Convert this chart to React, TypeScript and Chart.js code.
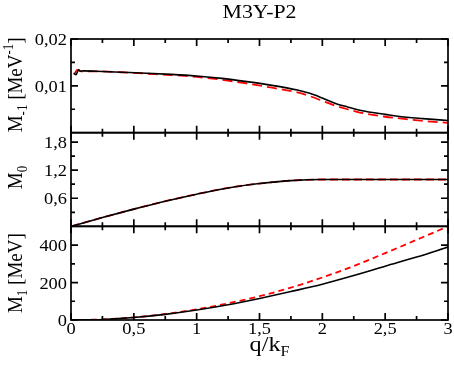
import React, { useEffect, useRef } from "react";
import { Chart, registerables } from "chart.js";

Chart.register(...registerables);

// ---------- data ----------
const titleText = "M3Y-P2";

// Panel 1: M_-1 [MeV^-1]
const qM1mBlack = [0.02, 0.04, 0.06, 0.08, 0.1, 0.2, 0.4, 0.6, 0.8, 1.0, 1.2, 1.4, 1.6, 1.8, 1.9, 2.0, 2.1, 2.2, 2.3, 2.4, 2.5, 2.6, 2.8, 3.0];
const m1mBlack = [0.0127, 0.0124, 0.0134, 0.0131, 0.0132, 0.0131, 0.0129, 0.0127, 0.01245, 0.0121, 0.0116, 0.0109, 0.0101, 0.0091, 0.0084, 0.0074, 0.0063, 0.0055, 0.0048, 0.0043, 0.0039, 0.0035, 0.0030, 0.0026];
const qM1mRed = [0.03, 0.05, 0.08, 0.1, 0.2, 0.4, 0.6, 0.8, 1.0, 1.2, 1.4, 1.6, 1.8, 1.9, 2.0, 2.1, 2.2, 2.3, 2.4, 2.5, 2.6, 2.8, 3.0];
const m1mRed = [0.0127, 0.0134, 0.0131, 0.0131, 0.0131, 0.0129, 0.0126, 0.0123, 0.0119, 0.0113, 0.0105, 0.0096, 0.0086, 0.0078, 0.0068, 0.0058, 0.0050, 0.0043, 0.0038, 0.0034, 0.0031, 0.0025, 0.0021];

// Panel 2: M_0
const qM0 = [0, 0.25, 0.5, 0.75, 1.0, 1.25, 1.5, 1.75, 2.0, 2.5, 3.0];
const m0Black = [0, 0.187, 0.367, 0.536, 0.687, 0.82, 0.914, 0.977, 1.0, 1.0, 1.0];
const m0Red = [0, 0.187, 0.367, 0.536, 0.687, 0.82, 0.914, 0.977, 1.0, 1.0, 1.0];

// Panel 3: M_1 [MeV]
const qM1 = [0, 0.25, 0.5, 0.75, 1.0, 1.25, 1.5, 1.75, 2.0, 2.25, 2.5, 2.75, 3.0];
const m1Black = [0, 3, 13, 30, 53, 81, 115, 152, 191, 237, 287, 336, 389];
const m1Red = [0, 3, 14, 32, 57, 89, 127, 173, 227, 288, 357, 428, 500];

// ticks
const xMajorTicks = [0, 0.5, 1, 1.5, 2, 2.5, 3];
const xMinorTicks = [0.25, 0.75, 1.25, 1.75, 2.25, 2.75];
const xTickLabels = ["0", "0,5", "1", "1,5", "2", "2,5", "3"];

const yATicks = [0.01, 0.02];
const yAMinor = [0.005, 0.015];
const yALabels = ["0,01", "0,02"];

const yBTicks = [0.6, 1.2, 1.8];
const yBMinor = [0.3, 0.9, 1.5];
const yBLabels = ["0,6", "1,2", "1,8"];

const yCTicks = [0, 200, 400];
const yCMinor = [100, 300];
const yCLabels = ["0", "200", "400"];

// ---------- drawing helpers ----------
const SX = 1.15;
const SERIF = '"Liberation Serif", "Times New Roman", serif';

type Part = { t: string; size: number; dy: number };

function drawText(ctx: CanvasRenderingContext2D, s: string, x: number, y: number, size: number, align: CanvasTextAlign, baseline: CanvasTextBaseline) {
  ctx.save();
  ctx.translate(x, y);
  ctx.scale(SX, 1);
  ctx.font = `${size}px ${SERIF}`;
  ctx.textAlign = align;
  ctx.textBaseline = baseline;
  ctx.fillStyle = "#000";
  ctx.fillText(s, 0, 0);
  ctx.restore();
}

function drawRich(ctx: CanvasRenderingContext2D, parts: Part[], x: number, y: number, rotated: boolean) {
  ctx.save();
  ctx.translate(x, y);
  if (rotated) {
    ctx.rotate(-Math.PI / 2);
    ctx.scale(1, SX);
  } else {
    ctx.scale(SX, 1);
  }
  ctx.fillStyle = "#000";
  ctx.textBaseline = "alphabetic";
  ctx.textAlign = "left";
  let total = 0;
  const widths = parts.map((p) => {
    ctx.font = `${p.size}px ${SERIF}`;
    const w = ctx.measureText(p.t).width;
    total += w;
    return w;
  });
  let cx = -total / 2;
  parts.forEach((p, i) => {
    ctx.font = `${p.size}px ${SERIF}`;
    ctx.fillText(p.t, cx, p.dy);
    cx += widths[i];
  });
  ctx.restore();
}

const framePlugin = {
  id: "frame",
  afterDraw(chart: any) {
    const ctx: CanvasRenderingContext2D = chart.ctx;
    const xs = chart.scales.x;
    const area = chart.chartArea;
    const L = area.left;
    const R = area.right;
    const panels = [
      { id: "yA", major: yATicks, minor: yAMinor, labels: yALabels },
      { id: "yB", major: yBTicks, minor: yBMinor, labels: yBLabels },
      { id: "yC", major: yCTicks, minor: yCMinor, labels: yCLabels },
    ];
    ctx.save();
    ctx.strokeStyle = "#000";
    ctx.lineWidth = 1.7;
    const MAJ = 7;
    const MIN = 4;
    for (const p of panels) {
      const s = chart.scales[p.id];
      const T = s.top;
      const B = s.bottom;
      ctx.strokeRect(L, T, R - L, B - T);
      ctx.beginPath();
      for (const q of xMajorTicks) {
        const px = xs.getPixelForValue(q);
        ctx.moveTo(px, B);
        ctx.lineTo(px, B - MAJ);
        ctx.moveTo(px, T);
        ctx.lineTo(px, T + MAJ);
      }
      for (const q of xMinorTicks) {
        const px = xs.getPixelForValue(q);
        ctx.moveTo(px, B);
        ctx.lineTo(px, B - MIN);
        ctx.moveTo(px, T);
        ctx.lineTo(px, T + MIN);
      }
      for (const v of p.major) {
        const py = s.getPixelForValue(v);
        ctx.moveTo(L, py);
        ctx.lineTo(L + MAJ, py);
        ctx.moveTo(R, py);
        ctx.lineTo(R - MAJ, py);
      }
      for (const v of p.minor) {
        const py = s.getPixelForValue(v);
        ctx.moveTo(L, py);
        ctx.lineTo(L + MIN, py);
        ctx.moveTo(R, py);
        ctx.lineTo(R - MIN, py);
      }
      ctx.stroke();
      p.major.forEach((v, i) => {
        const py = s.getPixelForValue(v);
        drawText(ctx, p.labels[i], L - 4, py + 2, 16, "right", "middle");
      });
    }
    // x tick labels
    const bottom = chart.scales.yC.bottom;
    xMajorTicks.forEach((q, i) => {
      drawText(ctx, xTickLabels[i], xs.getPixelForValue(q), bottom + 2, 16, "center", "top");
    });
    // title
    const cx = (L + R) / 2;
    drawText(ctx, titleText, cx, 18, 19, "center", "alphabetic");
    // x title
    drawRich(ctx, [
      { t: "q/k", size: 21, dy: 0 },
      { t: "F", size: 14, dy: 5 },
    ], cx + 10, 351, false);
    // y titles
    const yA = chart.scales.yA;
    const yB = chart.scales.yB;
    const yC = chart.scales.yC;
    drawRich(ctx, [
      { t: "M", size: 19, dy: 0 },
      { t: "-1", size: 13, dy: 4 },
      { t: " [MeV", size: 19, dy: 0 },
      { t: "-1", size: 13, dy: -8 },
      { t: "]", size: 19, dy: 0 },
    ], 22, (yA.top + yA.bottom) / 2 - 1, true);
    drawRich(ctx, [
      { t: "M", size: 19, dy: 0 },
      { t: "0", size: 13, dy: 4 },
    ], 22, (yB.top + yB.bottom) / 2 - 2, true);
    drawRich(ctx, [
      { t: "M", size: 19, dy: 0 },
      { t: "1", size: 13, dy: 4 },
      { t: " [MeV]", size: 19, dy: 0 },
    ], 22, (yC.top + yC.bottom) / 2, true);
    ctx.restore();
  },
};

function pts(xs: number[], ys: number[]) {
  return xs.map((x, i) => ({ x, y: ys[i] }));
}

const hiddenAxis = {
  ticks: { display: false },
  grid: { display: false, drawTicks: false, tickLength: 0 },
  border: { display: false },
  title: { display: false },
};

export default function App() {
  const ref = useRef<HTMLCanvasElement | null>(null);
  useEffect(() => {
    if (!ref.current) return;
    const black = "#000000";
    const red = "#ff0000";
    const chart = new Chart(ref.current, {
      type: "line",
      data: {
        datasets: [
          { label: "M-1 black", data: pts(qM1mBlack, m1mBlack), yAxisID: "yA", borderColor: black, borderWidth: 1.6, pointRadius: 0, cubicInterpolationMode: "monotone" },
          { label: "M-1 red", data: pts(qM1mRed, m1mRed), yAxisID: "yA", borderColor: red, borderWidth: 1.8, borderDash: [10, 5], pointRadius: 0, cubicInterpolationMode: "monotone" },
          { label: "M0 black", data: pts(qM0, m0Black), yAxisID: "yB", borderColor: black, borderWidth: 1.6, pointRadius: 0, cubicInterpolationMode: "monotone" },
          { label: "M0 red", data: pts(qM0, m0Red), yAxisID: "yB", borderColor: red, borderWidth: 1.8, borderDash: [8, 4], pointRadius: 0, cubicInterpolationMode: "monotone" },
          { label: "M1 black", data: pts(qM1, m1Black), yAxisID: "yC", borderColor: black, borderWidth: 1.6, pointRadius: 0, cubicInterpolationMode: "monotone" },
          { label: "M1 red", data: pts(qM1, m1Red), yAxisID: "yC", borderColor: red, borderWidth: 1.8, borderDash: [6, 4], pointRadius: 0, cubicInterpolationMode: "monotone" },
        ],
      },
      options: {
        animation: false,
        responsive: false,
        maintainAspectRatio: false,
        devicePixelRatio: 1,
        layout: { padding: { left: 71, right: 6, top: 39, bottom: 46 } },
        plugins: { legend: { display: false }, title: { display: false }, tooltip: { enabled: false } },
        scales: {
          x: { type: "linear", min: 0, max: 3, ...hiddenAxis },
          yC: { type: "linear", position: "left", stack: "p", stackWeight: 1, min: 0, max: 500, ...hiddenAxis },
          yB: { type: "linear", position: "left", stack: "p", stackWeight: 1, min: 0, max: 2, ...hiddenAxis },
          yA: { type: "linear", position: "left", stack: "p", stackWeight: 1, min: 0, max: 0.02, ...hiddenAxis },
        },
      } as any,
      plugins: [framePlugin],
    });
    return () => chart.destroy();
  }, []);
  return (
    <div style={{ position: "fixed", left: 0, top: 0, width: 454, height: 366, background: "#fff" }}>
      <canvas ref={ref} width={454} height={366} style={{ width: 454, height: 366, display: "block" }} />
    </div>
  );
}
